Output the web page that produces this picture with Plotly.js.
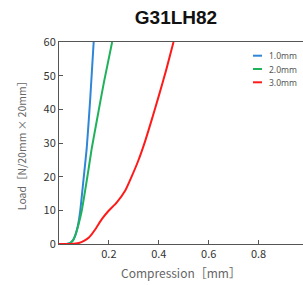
<!DOCTYPE html>
<html><head><meta charset="utf-8">
<script src="https://cdn.plot.ly/plotly-3.0.1.min.js"></script>
<style>html,body{margin:0;padding:0;background:#fff;}#chart{width:303px;height:285px;}</style>
</head><body><div id="chart"></div>
<script>
const seriesNames = ["1.0mm", "2.0mm", "3.0mm"];
const seriesColors = ["#2f86d6", "#1fb25a", "#ff1a1a"];
const blueX = [0, 0.03, 0.045, 0.055, 0.065, 0.075, 0.085, 0.098, 0.111, 0.125, 0.139];
const blueY = [0, 0, 0.3, 1, 2.5, 5.2, 9.8, 19, 28.3, 43, 60];
const greenX = [0, 0.03, 0.042, 0.05, 0.058, 0.068, 0.079, 0.091, 0.105, 0.118, 0.131, 0.15, 0.18, 0.213];
const greenY = [0, 0, 0.2, 0.6, 1.3, 3.2, 6, 9.8, 16, 22, 28.3, 36, 48, 60];
const redX = [0, 0.03, 0.05, 0.08, 0.1, 0.12, 0.145, 0.171, 0.198, 0.231, 0.265, 0.291, 0.318, 0.345, 0.37, 0.4, 0.43, 0.459];
const redY = [0, 0, 0, 0.3, 0.9, 1.9, 4.3, 7.3, 9.8, 12.3, 15.8, 20.0, 24.8, 30.5, 36.5, 44.0, 51.8, 60];
const xTicks = [0.2, 0.4, 0.6, 0.8];
const xTickText = ["0.2", "0.4", "0.6", "0.8"];
const yTicks = [0, 10, 20, 30, 40, 50, 60];

const xs = [blueX, greenX, redX], ys = [blueY, greenY, redY];
const traces = seriesNames.map((n, i) => ({
  x: xs[i], y: ys[i], name: n, type: 'scatter', mode: 'lines', showlegend: false,
  line: {color: seriesColors[i], width: 2, shape: 'spline', smoothing: 0.5}
}));

// custom compact legend (short line samples)
const shapes = [], annotations = [];
seriesNames.forEach((n, i) => {
  const yy = 55.7 + i * 13.3;
  const yp = (285 - yy - 41) / 202;
  shapes.push({type: 'line', xref: 'paper', yref: 'paper', x0: (253 - 59) / 244, x1: (262 - 59) / 244,
    y0: yp, y1: yp, line: {color: seriesColors[i], width: 2}});
  annotations.push({xref: 'paper', yref: 'paper', x: (267 - 59) / 244, y: yp,
    xanchor: 'left', yanchor: 'middle', text: n, showarrow: false,
    font: {size: 8.5, color: '#555', family: '"Noto Sans", sans-serif'}});
});

const layout = {
  width: 303, height: 285,
  margin: {l: 59, r: 0, t: 42, b: 41},
  paper_bgcolor: '#fff', plot_bgcolor: '#fff',
  font: {family: '"Noto Sans CJK JP", "Noto Sans", sans-serif', color: '#444'},
  title: {text: '<b>G31LH82</b>', x: 176 / 303, xanchor: 'center', y: 1 - 17 / 285, yanchor: 'middle',
    font: {family: '"Liberation Sans", Arial, sans-serif', size: 19, color: '#111'}},
  showlegend: false,
  shapes: shapes, annotations: annotations,
  xaxis: {range: [0, 0.978], tickvals: xTicks, ticktext: xTickText, ticks: 'inside', ticklen: 4,
    tickcolor: '#555', showline: true, linecolor: '#555', linewidth: 1, mirror: true,
    showgrid: false, zeroline: false, tickfont: {size: 11, color: '#333'},
    title: {text: 'Compression［mm］', font: {size: 12, color: '#666'}, standoff: 9}},
  yaxis: {range: [0, 60], tickvals: yTicks, ticks: 'inside', ticklen: 4, tickcolor: '#555',
    showline: true, linecolor: '#555', linewidth: 1, mirror: false,
    showgrid: false, zeroline: false, tickfont: {size: 11, color: '#333'},
    title: {text: 'Load［N/20mm × 20mm］', font: {size: 10.5, color: '#666'}, standoff: 14}}
};
Plotly.newPlot('chart', traces, layout, {displayModeBar: false, staticPlot: true});
</script></body></html>
